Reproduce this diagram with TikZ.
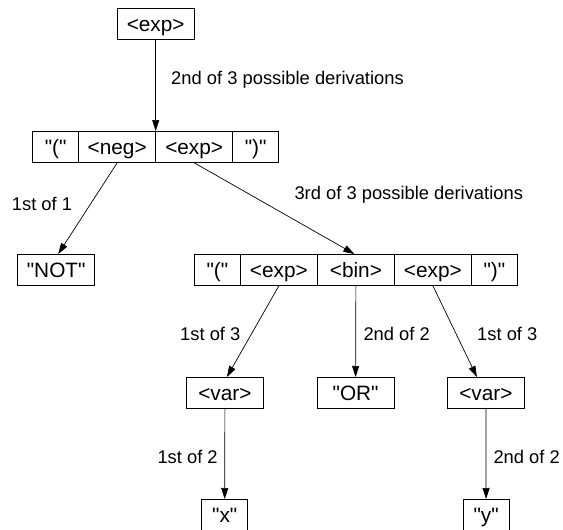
\documentclass[tikz,border=0pt]{standalone}
\usepackage{fontspec}
\setmainfont{Liberation Sans}[Ligatures=TeXOff]
\usetikzlibrary{arrows.meta}

\tikzset{
  cell/.style={draw=black, line width=0.8pt, inner sep=0pt, minimum height=31pt,
    anchor=north west, text height=16pt, text depth=0pt,
    font=\fontsize{20.8}{25}\selectfont},
  narrow/.style={cell, minimum width=46pt},
  wide/.style={cell, minimum width=77pt},
  deriv/.style={line width=0.7pt, -{Triangle[length=11pt,width=7pt]}},
  choice/.style={anchor=base west, inner sep=0pt, font=\fontsize{18.35}{22}\selectfont}
}

\begin{document}
\begin{tikzpicture}[x=1pt,y=1pt]
  \useasboundingbox (0,0) rectangle (563,-530);

  % root
  \node[wide] (e0) at (116.8,-8) {<exp>};

  % ( <neg> <exp> )
  \node[narrow] (r2a)   at (32.3,-131)  {"("};
  \node[wide]   (r2neg) at (78.3,-131)  {<neg>};
  \node[wide]   (r2exp) at (155.3,-131) {<exp>};
  \node[narrow] (r2b)   at (232.3,-131) {")"};

  % NOT
  \node[wide] (notbox) at (17.3,-254) {"NOT"};

  % ( <exp> <bin> <exp> )
  \node[narrow] (r3a)    at (194,-254) {"("};
  \node[wide]   (r3exp1) at (240,-254) {<exp>};
  \node[wide]   (r3bin)  at (317,-254) {<bin>};
  \node[wide]   (r3exp2) at (394,-254) {<exp>};
  \node[narrow] (r3b)    at (471,-254) {")"};

  % third level
  \node[wide] (var1)  at (186,-377)   {<var>};
  \node[wide] (orbox) at (316.7,-377) {"OR"};
  \node[wide] (var2)  at (447,-377)   {<var>};

  % leaves
  \node[narrow] (xbox) at (201.3,-499) {"x"};
  \node[narrow] (ybox) at (462.7,-499) {"y"};

  % derivation arrows
  \draw[deriv] (e0.south) -- (e0.south |- r2neg.north east);
  \draw[deriv] (r2neg.south) -- ([xshift=2pt]notbox.north);
  \draw[deriv] (r2exp.south) -- ([xshift=-1.5pt]r3bin.north);
  \draw[deriv] (r3exp1.south) -- ([xshift=2pt]var1.north);
  \draw[deriv] (r3bin.south) -- (orbox.north);
  \draw[deriv] (r3exp2.south) -- ([xshift=-9pt]var2.north);
  \draw[deriv] (var1.south) -- (xbox.north);
  \draw[deriv] (var2.south) -- (ybox.north);

  % labels
  \node[choice] (l1) at (171,-84)    {2nd of 3 possible derivations};
  \node[choice] (l2) at (11.7,-210)  {1st of 1};
  \node[choice] (l3) at (294.3,-199) {3rd of 3 possible derivations};
  \node[choice] (l4) at (180,-340)   {1st of 3};
  \node[choice] (l5) at (363.3,-340) {2nd of 2};
  \node[choice] (l6) at (477,-340)   {1st of 3};
  \node[choice] (l7) at (157.3,-463) {1st of 2};
  \node[choice] (l8) at (493.3,-463) {2nd of 2};
\end{tikzpicture}
\end{document}
